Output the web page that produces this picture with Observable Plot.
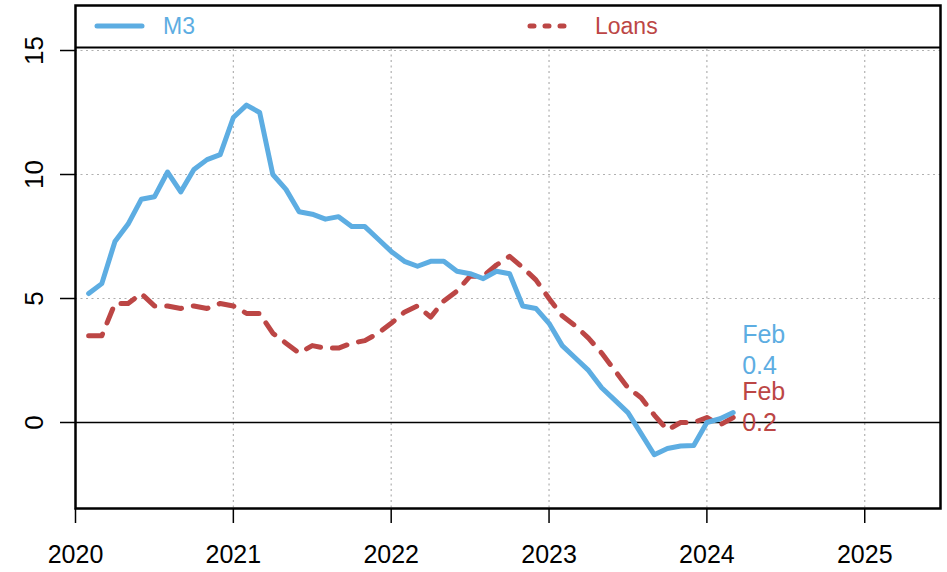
<!DOCTYPE html>
<html>
<head>
<meta charset="utf-8">
<script src="https://cdn.jsdelivr.net/npm/d3@7"></script>
<script src="https://cdn.jsdelivr.net/npm/@observablehq/plot@0.6"></script>
<style>
  html, body { margin: 0; padding: 0; background: white; }
  #chart { width: 947px; height: 572px; }
</style>
</head>
<body>
<div id="chart"></div>
<script>
// Monthly growth rates (% y/y), Jan 2020 .. Feb 2024
const startYear = 2020;
const m3 = [5.2,5.6,7.3,8.0,9.0,9.1,10.1,9.3,10.2,10.6,10.8,12.3,
            12.8,12.5,10.0,9.4,8.5,8.4,8.2,8.3,7.9,7.9,7.4,6.9,
            6.5,6.3,6.5,6.5,6.1,6.0,5.8,6.1,6.0,4.7,4.6,4.0,
            3.1,2.6,2.1,1.4,0.9,0.4,-0.45,-1.3,-1.05,-0.95,-0.93,0.0,
            0.15,0.4];
const loans = [3.5,3.5,4.8,4.8,5.2,4.7,4.7,4.6,4.7,4.6,4.8,4.7,
               4.4,4.4,3.6,3.2,2.8,3.1,3.0,3.0,3.2,3.3,3.6,4.0,
               4.45,4.7,4.25,4.9,5.3,5.9,5.9,6.35,6.7,6.25,5.75,5.0,
               4.3,3.9,3.4,2.8,2.1,1.4,1.0,0.3,-0.3,0.0,0.0,0.2,
               -0.1,0.2];
const seriesNames = ["M3", "Loans"];
const lastLabel = "Feb";
const xTicks = [2020, 2021, 2022, 2023, 2024, 2025];
const yTicks = [0, 5, 10, 15];

const blue = "#5DADE2";
const red = "#BC4645";
const font = "'Liberation Sans', Arial, sans-serif";

const toRows = (arr) => arr.map((v, i) => ({x: startYear + (i + 1) / 12, y: v}));
const m3Rows = toRows(m3);
const loanRows = toRows(loans);
const lastM3 = m3Rows[m3Rows.length - 1];
const lastLoan = loanRows[loanRows.length - 1];

const xDomain = [2020, 2025.48];
const yDomain = [-3.468, 16.815];
const legendBottom = 15.12;

const plot = Plot.plot({
  width: 947,
  height: 572,
  marginLeft: 75,
  marginRight: 7,
  marginTop: 5,
  marginBottom: 64,
  x: {domain: xDomain, label: null},
  y: {domain: yDomain, label: null},
  style: {fontFamily: font, fontSize: "25px", background: "white", color: "black"},
  marks: [
    Plot.ruleY(yTicks.filter(d => d !== 0), {stroke: "#b0b0b0", strokeWidth: 1.2, strokeDasharray: "2,3.5"}),
    Plot.ruleX(xTicks.filter(d => d > xDomain[0]), {stroke: "#b0b0b0", strokeWidth: 1.2, strokeDasharray: "2,3.5"}),
    Plot.ruleY([0], {stroke: "black", strokeWidth: 1.5}),
    Plot.line(loanRows, {x: "x", y: "y", stroke: red, strokeWidth: 5, strokeDasharray: "15,12", strokeLinecap: "round", strokeLinejoin: "round"}),
    Plot.line(m3Rows, {x: "x", y: "y", stroke: blue, strokeWidth: 5, strokeLinejoin: "round"}),
    Plot.text([lastM3], {x: "x", y: "y", text: d => `${lastLabel}\n${d.y.toFixed(1)}`, fill: blue, textAnchor: "start", lineAnchor: "middle", lineHeight: 1.25, dx: 9, dy: -64, fontSize: 25}),
    Plot.text([lastLoan], {x: "x", y: "y", text: d => `${lastLabel}\n${d.y.toFixed(1)}`, fill: red, textAnchor: "start", lineAnchor: "middle", lineHeight: 1.25, dx: 9, dy: -12, fontSize: 25}),
    Plot.rect([0], {x1: xDomain[0], x2: xDomain[1], y1: legendBottom, y2: yDomain[1], fill: "white"}),
    Plot.ruleY([legendBottom], {stroke: "black", strokeWidth: 2}),
    Plot.frame({stroke: "black", strokeWidth: 2.5}),
    Plot.axisX({ticks: xTicks, tickSize: 15, tickPadding: 22, tickFormat: "d", strokeWidth: 1.5, fontSize: 25}),
    Plot.axisY({ticks: yTicks, tickSize: 15, tickFormat: () => "", strokeWidth: 1.5}),
    Plot.text(yTicks, {x: xDomain[0], y: d => d, text: d => String(d), rotate: -90, dx: -41, textAnchor: "middle", lineAnchor: "middle", fontSize: 26, clip: false})
  ]
});

// Legend in the top strip of the box
const svg = d3.select(plot);
const ys = plot.scale("y");
const ly = (ys.apply(legendBottom) + ys.apply(yDomain[1])) / 2;
const g = svg.append("g");
const addText = (x, color, label) =>
  g.append("text").attr("x", x).attr("y", ly).attr("dy", "0.36em")
    .attr("style", `font-family:${font};font-size:23px;text-anchor:start;fill:${color}`)
    .text(label);
g.append("line").attr("x1", 97).attr("x2", 142).attr("y1", ly).attr("y2", ly)
  .attr("stroke", blue).attr("stroke-width", 5).attr("stroke-linecap", "round");
addText(163, blue, seriesNames[0]);
g.append("line").attr("x1", 530).attr("x2", 566).attr("y1", ly).attr("y2", ly)
  .attr("stroke", red).attr("stroke-width", 5).attr("stroke-linecap", "round").attr("stroke-dasharray", "4,11");
addText(595, red, seriesNames[1]);

document.getElementById("chart").appendChild(plot);
</script>
</body>
</html>
